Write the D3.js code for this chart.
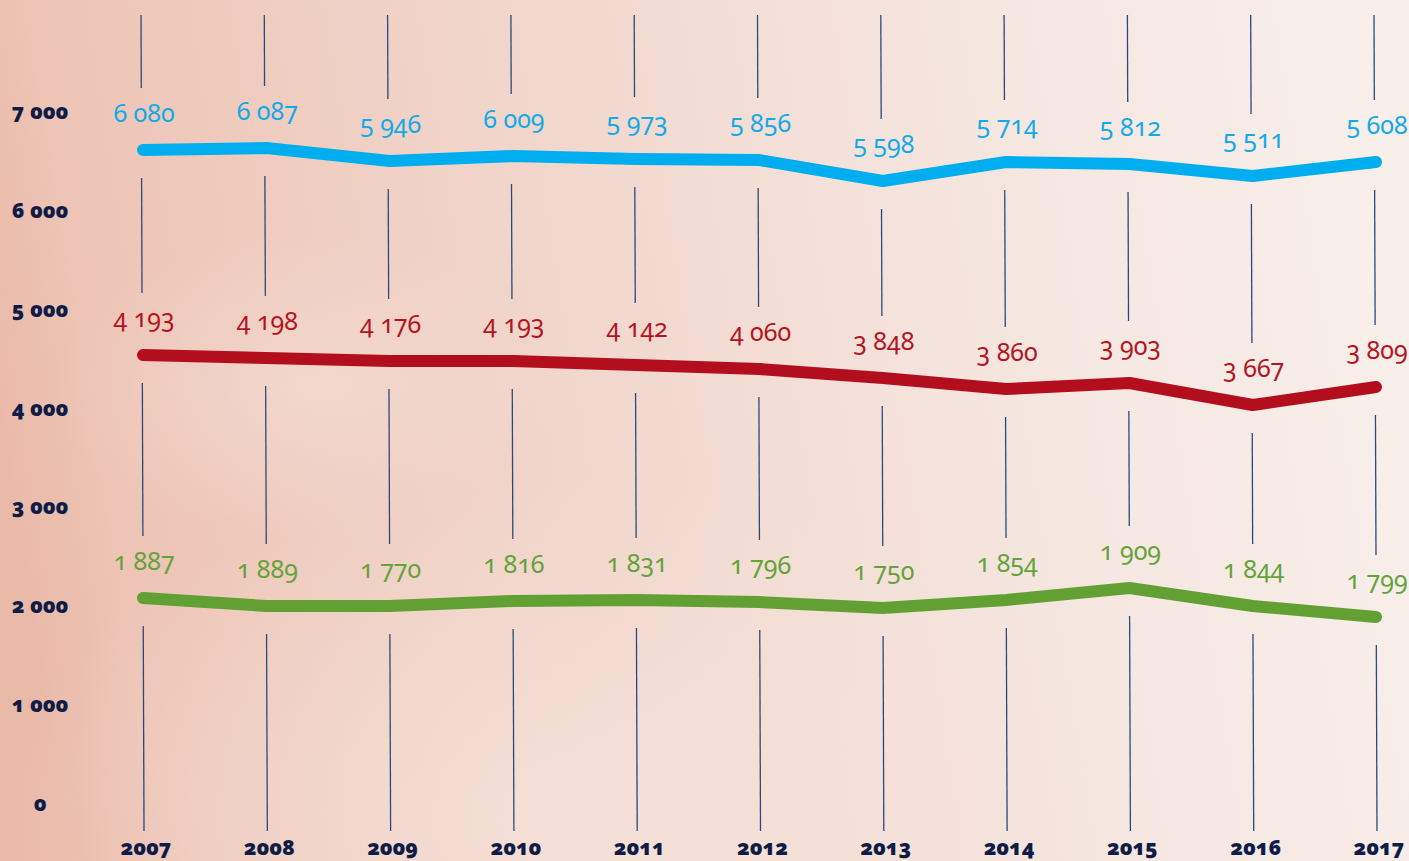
<!DOCTYPE html>
<html>
<head>
<meta charset="utf-8">
<script src="https://cdn.jsdelivr.net/npm/d3@7"></script>
<style>
  html, body { margin: 0; padding: 0; width: 1409px; height: 861px; overflow: hidden; }
  svg { display: block; }
  .num { font-family: "Noto Sans", Lato, sans-serif; font-variant-numeric: oldstyle-nums; font-feature-settings: "onum" 1; }
</style>
</head>
<body>
<svg id="chart" width="1409" height="861"></svg>
<script>
// ---- data ----
const years = [2007, 2008, 2009, 2010, 2011, 2012, 2013, 2014, 2015, 2016, 2017];
const yTicks = [0, 1000, 2000, 3000, 4000, 5000, 6000, 7000];

// printed value labels
const blueLabels  = [6080, 6087, 5946, 6009, 5973, 5856, 5598, 5714, 5812, 5511, 5608];
const redLabels   = [4193, 4198, 4176, 4193, 4142, 4060, 3848, 3860, 3903, 3667, 3809];
const greenLabels = [1887, 1889, 1770, 1816, 1831, 1796, 1750, 1854, 1909, 1844, 1799];

// line heights as drawn against the axis in the picture
const bluePlot  = [6626, 6646, 6514, 6565, 6535, 6524, 6312, 6504, 6484, 6363, 6504];
const redPlot   = [4552, 4522, 4491, 4491, 4451, 4410, 4319, 4208, 4269, 4046, 4228];
const greenPlot = [2094, 2013, 2013, 2064, 2074, 2053, 1993, 2074, 2195, 2013, 1902];

const seriesColors = ["#00aeef", "#b30e1d", "#62a033"];
const labelColors  = ["#14a9e8", "#b5141f", "#64a23a"];

// ---- setup ----
(function () {
const W = 1409, H = 861;
const svg = d3.select("#chart");
const fmtSp = v => d3.format(",")(v).replace(/,/g, " ");

const x = d3.scalePoint().domain(years).range([143, 1376]);
const y = d3.scaleLinear().domain([0, 7000]).range([805, 113]);

// background
const defs = svg.append("defs");
const lg = defs.append("linearGradient").attr("id", "bg")
  .attr("x1", "0").attr("y1", "0.5").attr("x2", "1").attr("y2", "0.4");
[["0%", "#eabaa9"], ["7%", "#edc4b5"], ["35%", "#f1d3c8"], ["65%", "#f4e3dc"], ["100%", "#f8efeb"]]
  .forEach(([o, c]) => lg.append("stop").attr("offset", o).attr("stop-color", c));
const rg = defs.append("radialGradient").attr("id", "glow")
  .attr("cx", "0.4").attr("cy", "0.95").attr("r", "0.4");
rg.append("stop").attr("offset", "0%").attr("stop-color", "#f6e4dc").attr("stop-opacity", 0.75);
rg.append("stop").attr("offset", "100%").attr("stop-color", "#f6e4dc").attr("stop-opacity", 0);
const rg2 = defs.append("radialGradient").attr("id", "glow2")
  .attr("cx", "0.22").attr("cy", "0.45").attr("r", "0.18");
rg2.append("stop").attr("offset", "0%").attr("stop-color", "#f5ded5").attr("stop-opacity", 0.6);
rg2.append("stop").attr("offset", "100%").attr("stop-color", "#f5ded5").attr("stop-opacity", 0);
svg.append("rect").attr("width", W).attr("height", H).attr("fill", "url(#bg)");
svg.append("rect").attr("width", W).attr("height", H).attr("fill", "url(#glow)");
svg.append("rect").attr("width", W).attr("height", H).attr("fill", "url(#glow2)");

// vertical year lines, broken around labels and lines
const yTop = 15, yBottom = 831;
const xAt = (yr, yy) => x(yr) - 2 + 3 * (yy - yTop) / (yBottom - yTop);
const plots = [bluePlot, redPlot, greenPlot];
const segs = [];
years.forEach((yr, i) => {
  const ys = plots.map(p => y(p[i]));
  const bounds = [yTop];
  ys.forEach(v => { bounds.push(v - 62); bounds.push(v + 28); });
  bounds.push(yBottom);
  for (let k = 0; k < bounds.length; k += 2) segs.push({ yr, y1: bounds[k], y2: bounds[k + 1] });
});
svg.append("g").selectAll("line").data(segs).join("line")
  .attr("x1", d => xAt(d.yr, d.y1)).attr("x2", d => xAt(d.yr, d.y2))
  .attr("y1", d => d.y1).attr("y2", d => d.y2)
  .attr("stroke", "#2a4a7c").attr("stroke-width", 1.3);

// y axis labels
svg.append("g").selectAll("text").data(yTicks).join("text")
  .attr("class", "num")
  .attr("x", 40).attr("y", d => y(d) + 6)
  .attr("text-anchor", "middle")
  .attr("font-size", 21).attr("font-weight", 900)
  .attr("fill", "#0f1c46")
  .text(d => fmtSp(d));

// x axis labels
svg.append("g").selectAll("text").data(years).join("text")
  .attr("class", "num")
  .attr("x", d => x(d) + 3).attr("y", 855)
  .attr("text-anchor", "middle")
  .attr("font-size", 21).attr("font-weight", 900)
  .attr("fill", "#0f1c46")
  .text(d => d);

// lines
const line = d3.line().x((d, i) => x(years[i])).y(d => y(d));
plots.forEach((p, s) => {
  svg.append("path").datum(p)
    .attr("d", line)
    .attr("fill", "none")
    .attr("stroke", seriesColors[s])
    .attr("stroke-width", 12)
    .attr("stroke-linecap", "round")
    .attr("stroke-linejoin", "round");
});

// value labels
const labels = [blueLabels, redLabels, greenLabels];
labels.forEach((lab, s) => {
  svg.append("g").selectAll("text").data(lab).join("text")
    .attr("class", "num")
    .attr("x", (d, i) => x(years[i]) + 1)
    .attr("y", (d, i) => y(plots[s][i]) - 28)
    .attr("text-anchor", "middle")
    .attr("font-size", 25)
    .attr("fill", labelColors[s])
    .text(d => fmtSp(d));
});
})();
</script>
</body>
</html>
